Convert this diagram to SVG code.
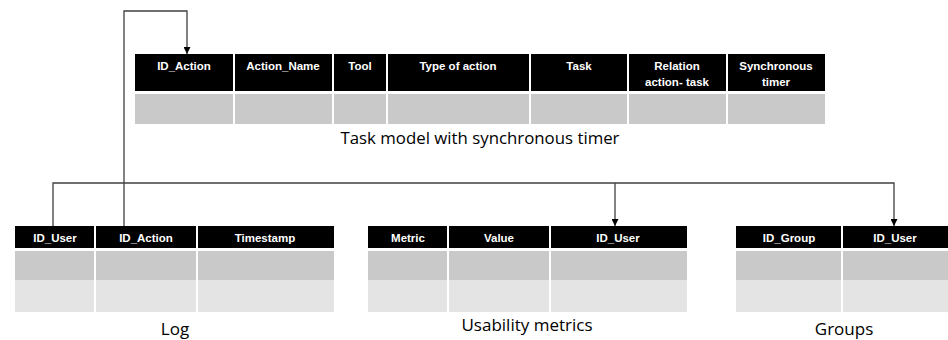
<svg xmlns="http://www.w3.org/2000/svg" width="948" height="340" viewBox="0 0 948 340">
<defs>
<marker id="arr" viewBox="0 0 10 10" refX="10" refY="5" markerWidth="7" markerHeight="7" markerUnits="userSpaceOnUse" orient="auto">
<path d="M0,0 L10,5 L0,10 z" fill="#000"/>
</marker>
<style>
.hd{fill:#000}
.r1{fill:#c9c9c9}
.r2{fill:#e4e4e4}
.sep{stroke:#fff;stroke-width:2}
.ht{font-family:"Liberation Sans",Arial,sans-serif;font-weight:bold;font-size:11.5px;fill:#fff;text-anchor:middle}
.cap{font-family:"Open Sans","Liberation Sans",sans-serif;font-size:17px;fill:#000;text-anchor:middle}
.ln{fill:none;stroke:#404040;stroke-width:1.3}
</style>
</defs>
<rect width="948" height="340" fill="#fff"/>

<g id="task_model">
<rect class="hd" x="135" y="54" width="690" height="37"/>
<rect class="r1" x="135" y="94" width="690" height="30"/>
<g class="sep">
<line x1="234" y1="54" x2="234" y2="124"/>
<line x1="333" y1="54" x2="333" y2="124"/>
<line x1="387" y1="54" x2="387" y2="124"/>
<line x1="530" y1="54" x2="530" y2="124"/>
<line x1="628" y1="54" x2="628" y2="124"/>
<line x1="727" y1="54" x2="727" y2="124"/>
</g>
<text class="ht" x="184" y="70">ID_Action</text>
<text class="ht" x="283" y="70">Action_Name</text>
<text class="ht" x="360" y="70">Tool</text>
<text class="ht" x="458" y="70">Type of action</text>
<text class="ht" x="579" y="70">Task</text>
<text class="ht" x="677" y="70">Relation</text>
<text class="ht" x="677" y="86">action- task</text>
<text class="ht" x="776" y="70">Synchronous</text>
<text class="ht" x="776" y="86">timer</text>
<text class="cap" x="480" y="144" textLength="279" lengthAdjust="spacingAndGlyphs">Task model with synchronous timer</text>
</g>

<g id="log">
<rect class="hd" x="15" y="226" width="319" height="22"/>
<rect class="r1" x="15" y="251" width="319" height="29"/>
<rect class="r2" x="15" y="280" width="319" height="32"/>
<g class="sep">
<line x1="95" y1="226" x2="95" y2="312"/>
<line x1="197" y1="226" x2="197" y2="312"/>
</g>
<text class="ht" x="55" y="242">ID_User</text>
<text class="ht" x="146" y="242">ID_Action</text>
<text class="ht" x="265" y="242">Timestamp</text>
<text class="cap" x="175" y="335">Log</text>
</g>

<g id="usability_metrics">
<rect class="hd" x="368" y="226" width="319" height="22"/>
<rect class="r1" x="368" y="251" width="319" height="29"/>
<rect class="r2" x="368" y="280" width="319" height="32"/>
<g class="sep">
<line x1="448" y1="226" x2="448" y2="312"/>
<line x1="550" y1="226" x2="550" y2="312"/>
</g>
<text class="ht" x="408" y="242">Metric</text>
<text class="ht" x="499" y="242">Value</text>
<text class="ht" x="618" y="242">ID_User</text>
<text class="cap" x="527" y="331">Usability metrics</text>
</g>

<g id="groups">
<rect class="hd" x="736" y="226" width="212" height="22"/>
<rect class="r1" x="736" y="251" width="212" height="29"/>
<rect class="r2" x="736" y="280" width="212" height="32"/>
<g class="sep">
<line x1="842" y1="226" x2="842" y2="312"/>
</g>
<text class="ht" x="789" y="242">ID_Group</text>
<text class="ht" x="895" y="242">ID_User</text>
<text class="cap" x="844" y="335">Groups</text>
</g>

<g id="connectors">
<path class="ln" d="M124,226 V11 H187 V54" marker-end="url(#arr)"/>
<path class="ln" d="M53,226 V183 H894 V226" marker-end="url(#arr)"/>
<path class="ln" d="M615,183 V226" marker-end="url(#arr)"/>
</g>
</svg>
